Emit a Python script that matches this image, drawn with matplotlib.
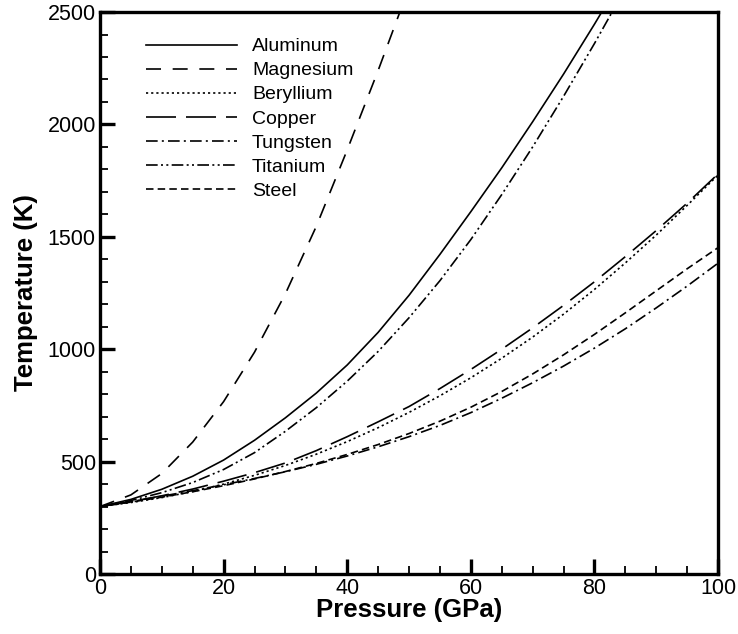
import matplotlib
matplotlib.use('Agg')
import matplotlib.pyplot as plt
import numpy as np

plt.rcParams['font.family'] = ['Liberation Sans', 'DejaVu Sans']

# ─── data ────────────────────────────────────────────────────────────────────
pressure = [0, 5, 10, 15, 20, 25, 30, 35, 40, 45, 50,
            55, 60, 65, 70, 75, 80, 85, 90, 95, 100]

aluminum = [300, 332, 377, 435, 507, 595, 695, 805, 930, 1075, 1240,
            1422, 1612, 1807, 2012, 2224, 2446, 2676, 2910, 3150, 3400]
magnesium = [300, 352, 447, 587, 767, 987, 1247, 1547, 1887, 2240, 2610,
             2990, 3380, 3780, 4190, 4600, 5020, 5440, 5870, 6300, 6740]
beryllium = [300, 318, 340, 367, 400, 439, 483, 533, 589, 651, 719,
             793, 873, 960, 1054, 1156, 1266, 1384, 1508, 1640, 1775]
copper = [300, 322, 348, 378, 413, 451, 494, 549, 611, 677, 745,
          825, 910, 1000, 1095, 1195, 1300, 1412, 1528, 1650, 1780]
tungsten = [300, 322, 346, 371, 397, 425, 455, 488, 525, 566, 611,
            661, 718, 782, 851, 925, 1005, 1091, 1184, 1281, 1383]
titanium = [300, 327, 362, 407, 465, 540, 635, 740, 858, 990, 1140,
            1305, 1488, 1688, 1900, 2125, 2360, 2605, 2855, 3110, 3370]
steel = [300, 320, 342, 366, 393, 423, 456, 492, 532, 576, 625,
         680, 742, 812, 890, 975, 1066, 1162, 1260, 1358, 1452]

names = ['Aluminum', 'Magnesium', 'Beryllium', 'Copper',
         'Tungsten', 'Titanium', 'Steel']
series = [aluminum, magnesium, beryllium, copper, tungsten, titanium, steel]

styles = [
    '-',
    (0, (9, 7)),
    (0, (1.3, 1.8)),
    (0, (18, 6)),
    (0, (7, 2.5, 1.2, 2.5)),
    (0, (7, 2, 1.2, 2, 1.2, 2)),
    (0, (4.5, 2.5)),
]

# ─── figure ──────────────────────────────────────────────────────────────────
fig = plt.figure(figsize=(7.38, 6.34), dpi=100)
ax = fig.add_axes([0.1355, 0.0946, 0.8375, 0.8864])

for vals, name, ls in zip(series, names, styles):
    ax.plot(pressure, vals, color='black', lw=1.2, linestyle=ls, label=name)

ax.set_xlim(0, 100)
ax.set_ylim(0, 2500)
ax.set_xticks(np.arange(0, 101, 20))
ax.set_xticks(np.arange(0, 101, 5), minor=True)
ax.set_yticks(np.arange(0, 2501, 500))
ax.set_yticks(np.arange(0, 2501, 100), minor=True)

ax.tick_params(which='both', direction='in', top=False, right=False,
               labelsize=15.5, pad=3)
ax.tick_params(which='major', length=11, width=2.4)
ax.tick_params(which='minor', length=6, width=1.3)
for sp in ax.spines.values():
    sp.set_linewidth(2.4)

ax.set_xlabel('Pressure (GPa)', fontsize=18.5, fontweight='bold', labelpad=-1)
ax.set_ylabel('Temperature (K)', fontsize=18.5, fontweight='bold', labelpad=7)

leg = ax.legend(loc='upper left', bbox_to_anchor=(0.062, 0.968), frameon=False,
                fontsize=14, handlelength=4.7, handletextpad=0.75,
                labelspacing=0.33, borderaxespad=0)

fig.savefig('out.png', dpi=100)
plt.close(fig)
